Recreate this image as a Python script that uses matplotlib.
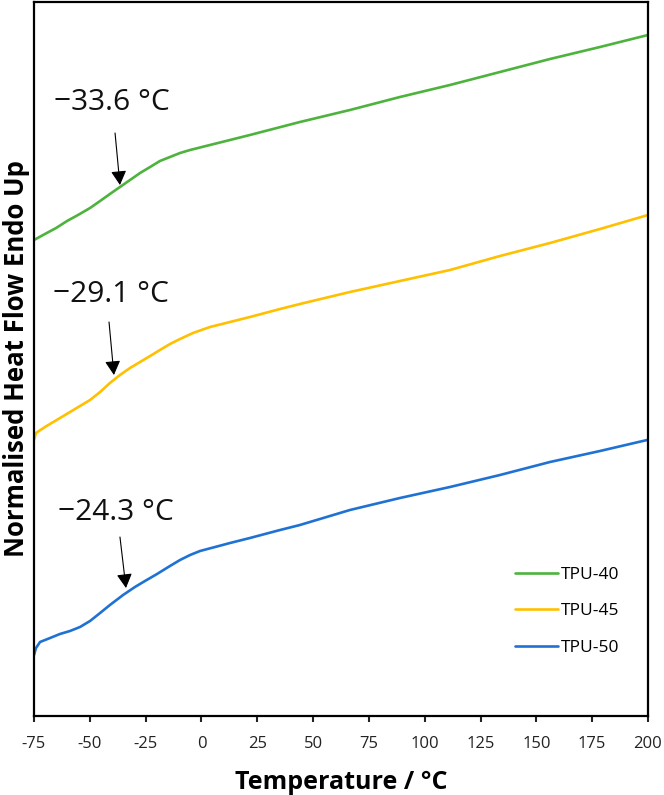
import matplotlib
matplotlib.use("Agg")
import matplotlib.pyplot as plt

plt.rcParams['font.family'] = ['Open Sans', 'DejaVu Sans']

# Temperature (°C) and normalised heat flow (arbitrary units, endo up)
t_green = [-75, -70.1, -65.1, -60.2, -55.3, -49.9, -45.4, -41.0, -36.5, -32.0, -27.5, -23.0, -18.6,
           -14.1, -9.6, -5.1, -0.65, 3.8, 8.3, 21.7, 44.1, 66.5, 88.9, 111.3, 133.7, 156.1, 178.5, 200]
y_green = [4.76, 4.82, 4.88, 4.95, 5.01, 5.08, 5.15, 5.22, 5.29, 5.36, 5.43, 5.49, 5.55,
           5.59, 5.63, 5.66, 5.685, 5.71, 5.735, 5.81, 5.94, 6.06, 6.19, 6.31, 6.44, 6.57, 6.69, 6.81]

t_yellow = [-75, -74.1, -70.1, -65.6, -61.1, -54.4, -49.9, -45.4, -41.0, -36.5, -32.0, -27.5, -23.0, -18.6,
            -14.1, -9.6, -3.8, 3.8, 12.8, 21.7, 35.2, 44.1, 66.5, 88.9, 111.3, 133.7, 156.1, 178.5, 200]
y_yellow = [2.76, 2.83, 2.89, 2.95, 3.01, 3.10, 3.16, 3.24, 3.33, 3.41, 3.48, 3.54, 3.60, 3.66,
            3.72, 3.77, 3.83, 3.89, 3.94, 3.99, 4.07, 4.12, 4.24, 4.35, 4.46, 4.60, 4.73, 4.87, 5.01]

t_blue = [-75, -74.1, -72.3, -67.8, -63.4, -58.9, -54.4, -49.9, -45.4, -41.0, -35.1, -29.8, -25.3, -19.9,
          -14.1, -9.6, -5.1, -0.65, 6.1, 12.8, 21.7, 35.2, 44.1, 66.5, 88.9, 111.3, 133.7, 156.1, 178.5, 199.6]
y_blue = [0.61, 0.68, 0.74, 0.78, 0.82, 0.85, 0.89, 0.95, 1.03, 1.11, 1.21, 1.29, 1.35, 1.42,
          1.50, 1.56, 1.61, 1.65, 1.69, 1.73, 1.78, 1.86, 1.91, 2.06, 2.18, 2.29, 2.41, 2.54, 2.65, 2.76]

series_names = ["TPU-40", "TPU-45", "TPU-50"]
series_colors = ["#4DB33D", "#FFC000", "#1F72D3"]

tg_labels = ["\u221233.6 \u00b0C", "\u221229.1 \u00b0C", "\u221224.3 \u00b0C"]
arrow_tips = [(-36.5, 5.31), (-39.2, 3.41), (-33.8, 1.28)]
arrow_tails = [(-38.7, 5.83), (-41.4, 3.94), (-36.5, 1.79)]
label_pos = [(-40.1, 6.13), (-40.5, 4.21), (-38.3, 2.04)]

x_ticks = [-75, -50, -25, 0, 25, 50, 75, 100, 125, 150, 175, 200]

fig = plt.figure(figsize=(6.64, 7.95), dpi=100)
ax = fig.add_axes([34/664, 1-716/795, (648-34)/664, (716-2)/795])

for t, y, n, c in zip([t_green, t_yellow, t_blue], [y_green, y_yellow, y_blue], series_names, series_colors):
    ax.plot(t, y, color=c, lw=1.9, label=n, solid_capstyle='round', solid_joinstyle='round')

for lab, tip, tail, lp in zip(tg_labels, arrow_tips, arrow_tails, label_pos):
    ax.annotate('', xy=tip, xytext=tail,
                arrowprops=dict(arrowstyle='-|>,head_length=0.86,head_width=0.47',
                                mutation_scale=10, lw=0.8, color='black',
                                shrinkA=0, shrinkB=0))
    ax.text(lp[0], lp[1], lab, ha='center', va='center', fontsize=21.5, color='#111111')

ax.set_xlim(-75, 200)
ax.set_ylim(0, 7.14)
ax.set_xticks(x_ticks)
ax.set_xticklabels([str(v) for v in x_ticks])
ax.set_yticks([])
ax.tick_params(axis='x', direction='out', length=4.5, width=1.5, labelsize=12, pad=10, colors='#222222')
for s in ax.spines.values():
    s.set_linewidth(1.6)
    s.set_color('black')

ax.set_xlabel("Temperature / \u00b0C", fontsize=18, fontweight='bold', labelpad=13)
ax.set_ylabel("Normalised Heat Flow Endo Up", fontsize=18.5, fontweight='bold', labelpad=3)

leg = ax.legend(loc='upper left', bbox_to_anchor=(0.758, 0.231), frameon=False,
                fontsize=12.5, handlelength=2.48, handletextpad=0.15, labelspacing=1.17)

fig.savefig("out.png", dpi=100)
